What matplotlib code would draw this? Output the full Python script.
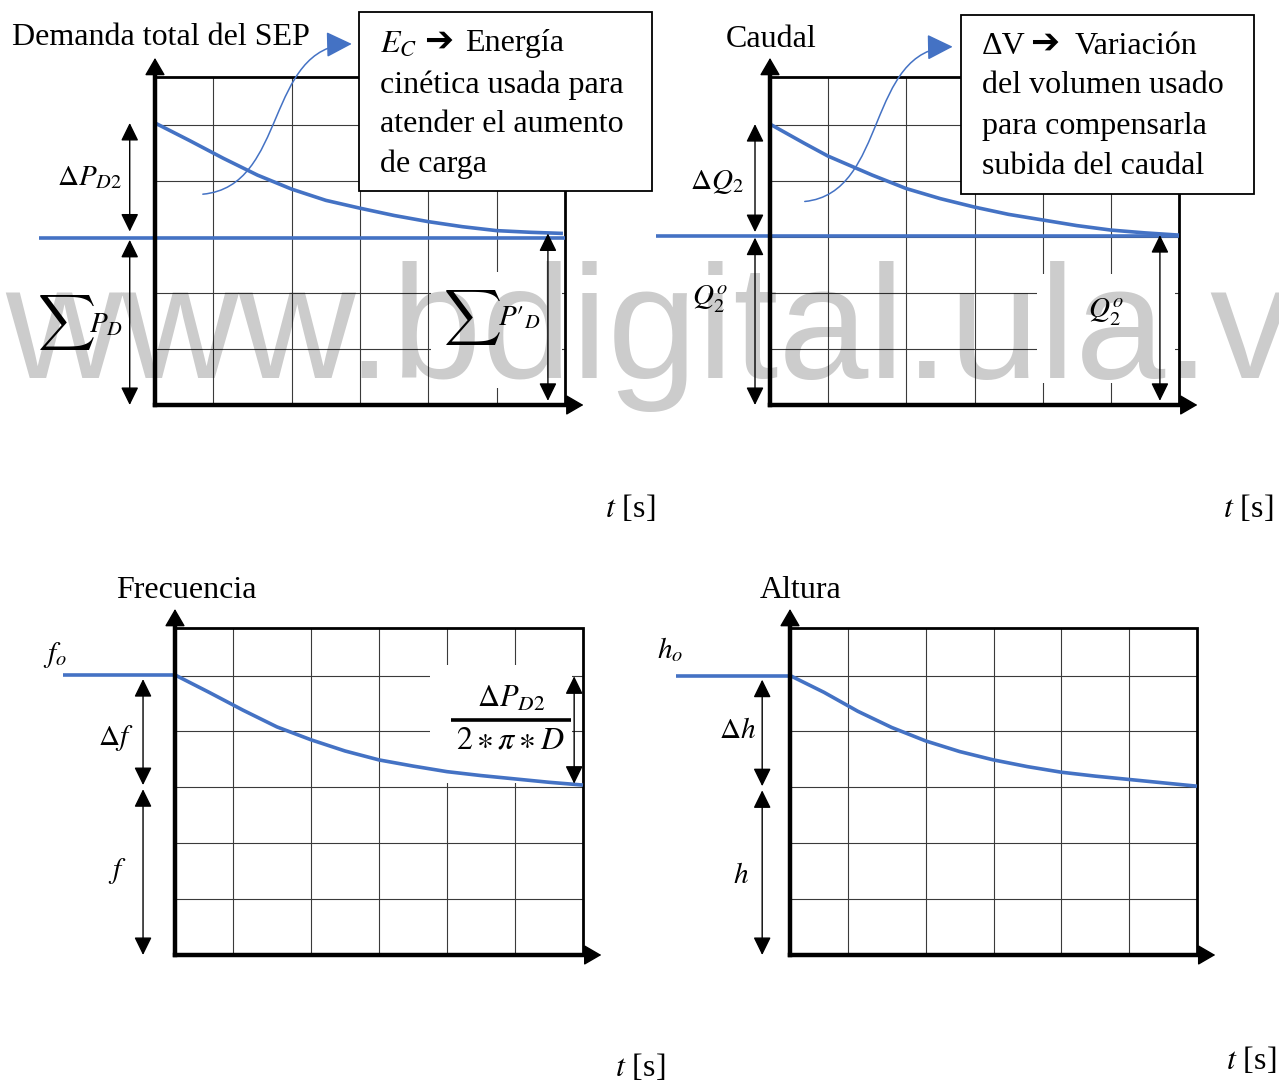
import matplotlib
matplotlib.use("Agg")
import matplotlib.pyplot as plt
from matplotlib.patches import Rectangle, FancyArrowPatch
from matplotlib.path import Path

plt.rcParams["font.family"] = ["Liberation Serif", "DejaVu Sans"]
plt.rcParams["mathtext.fontset"] = "stix"

W, H, DPI = 1279, 1082, 100
BLUE = "#4472C4"

# Shared grid of the four panels (time units across, value units up)
grid_t = [0.85, 2, 3, 4, 5]
grid_v = [1, 2, 3, 4, 5]
T_MAX, V_MAX = 6.0, 5.85
T_TIP, V_TIP = 6.27, 6.19

# Demanda total del SEP
demand_lead_t = -1.70
demand_base = 2.97
demand_t = [0, 0.5, 1.0, 1.5, 2.0, 2.5, 3.0, 3.5, 4.0, 4.5, 5.0, 5.5, 5.97]
demand_v = [5.03, 4.72, 4.40, 4.10, 3.85, 3.65, 3.51, 3.38, 3.27, 3.18, 3.11, 3.08, 3.06]

# Caudal
flow_lead_t = -1.67
flow_base = 3.01
flow_t = [0, 0.5, 0.85, 1.5, 2.0, 2.5, 3.0, 3.5, 4.0, 4.5, 5.0, 5.5, 6.0]
flow_v = [5.01, 4.67, 4.44, 4.10, 3.86, 3.68, 3.53, 3.40, 3.30, 3.20, 3.12, 3.07, 3.03]

# Frecuencia
freq_lead_t = -1.65
freq_t = [0, 0.5, 1.0, 1.5, 2.0, 2.5, 3.0, 3.5, 4.0, 4.5, 5.0, 5.5, 6.0]
freq_v = [5.01, 4.70, 4.38, 4.08, 3.85, 3.65, 3.49, 3.38, 3.28, 3.21, 3.15, 3.09, 3.04]

# Altura
head_lead_t = -1.68
head_t = [0, 0.5, 1.0, 1.5, 2.0, 2.5, 3.0, 3.5, 4.0, 4.5, 5.0, 5.5, 6.0]
head_v = [5.00, 4.70, 4.36, 4.07, 3.83, 3.64, 3.49, 3.37, 3.27, 3.20, 3.14, 3.08, 3.02]

# Panel boxes in pixels: left, top, right, bottom
PANELS = {
    "demand": (155, 77, 565, 405),
    "flow": (770, 77, 1179, 405),
    "freq": (175, 628, 583, 955),
    "head": (790, 628, 1197, 955),
}

TITLE_FS = 23
BOX_FS = 23
MATH_FS = 21
SIGMA_FS = 29

fig = plt.figure(figsize=(W / DPI, H / DPI), dpi=DPI)
fig.patch.set_facecolor("white")


def make_panel(box):
    l, t, r, b = box
    ax = fig.add_axes([l / W, 1 - b / H, (r - l) / W, (b - t) / H])
    ax.set_xlim(0, T_MAX)
    ax.set_ylim(0, V_MAX)
    ax.axis("off")
    for g in grid_t:
        ax.plot([g, g], [0, V_MAX], color="#3a3a3a", lw=0.8, zorder=1)
    for g in grid_v:
        ax.plot([0, T_MAX], [g, g], color="#3a3a3a", lw=0.8, zorder=1)
    ax.plot([0, T_MAX, T_MAX], [V_MAX, V_MAX, 0], color="black", lw=2.0,
            zorder=3, solid_joinstyle="miter", clip_on=False)
    ax.plot([0, 0], [0, V_TIP - 0.2], color="black", lw=3.2, zorder=5,
            solid_capstyle="projecting", clip_on=False)
    ax.plot([0, T_TIP - 0.2], [0, 0], color="black", lw=3.2, zorder=5,
            solid_capstyle="projecting", clip_on=False)
    head = dict(arrowstyle="-|>,head_length=0.55,head_width=0.32",
                color="black", lw=1.0, mutation_scale=20,
                shrinkA=0, shrinkB=0)
    ax.annotate("", xy=(0, V_TIP), xytext=(0, V_TIP - 0.3), arrowprops=head,
                annotation_clip=False, zorder=5)
    ax.annotate("", xy=(T_TIP, 0), xytext=(T_TIP - 0.3, 0), arrowprops=head,
                annotation_clip=False, zorder=5)
    return ax


def span(ax, t, v_from, v_to, shrink_from=0, shrink_to=0):
    ax.annotate("", xy=(t, v_to), xytext=(t, v_from),
                arrowprops=dict(arrowstyle="<|-|>,head_length=0.55,head_width=0.27",
                                color="black", lw=1.0, mutation_scale=20,
                                shrinkA=shrink_from, shrinkB=shrink_to),
                annotation_clip=False, zorder=6)


def mask(ax, t0, t1, v0, v1):
    ax.add_patch(Rectangle((t0, v0), t1 - t0, v1 - v0, facecolor="white",
                           edgecolor="none", zorder=2, clip_on=False))


def callout(ax, t0, t1, v0, v1):
    ax.add_patch(Rectangle((t0, v0), t1 - t0, v1 - v0, facecolor="white",
                           edgecolor="black", lw=1.3, zorder=7, clip_on=False))


def box_text(ax, t, v, s, **kw):
    opts = dict(fontsize=BOX_FS, ha="left", va="center", zorder=8, clip_on=False)
    opts.update(kw)
    ax.text(t, v, s, **opts)


def bent_arrow(ax, pts):
    path = Path(pts, [Path.MOVETO, Path.CURVE4, Path.CURVE4, Path.CURVE4])
    arr = FancyArrowPatch(path=path, arrowstyle="-|>,head_length=0.8,head_width=0.4",
                          mutation_scale=20, color=BLUE, lw=1.1,
                          transform=ax.transData, zorder=9, clip_on=False)
    ax.add_patch(arr)


def label(ax, t, v, s, fs=MATH_FS, ha="center", va="center"):
    ax.text(t, v, s, fontsize=fs, ha=ha, va=va, zorder=8, clip_on=False)


def sigma(ax, t, v):
    ax.text(t, v, r"$\sum$", fontsize=SIGMA_FS, ha="center", va="center",
            math_fontfamily="cm", zorder=8, clip_on=False)


LINE = dict(color=BLUE, lw=2.6, zorder=4, clip_on=False, solid_capstyle="butt")

# ---------------- Demanda total del SEP ----------------
ax = make_panel(PANELS["demand"])
mask(ax, 4.04, 5.96, 0.30, 2.38)
ax.plot([demand_lead_t, T_MAX], [demand_base, demand_base], **LINE)
ax.plot([0, 0], [demand_base, demand_v[0]], **LINE)
ax.plot(demand_t, demand_v, **LINE)
span(ax, -0.37, demand_base, demand_v[0], shrink_from=5)
span(ax, -0.37, demand_base, 0, shrink_from=1)
span(ax, 5.75, 0, demand_v[-1], shrink_from=3)
label(ax, -0.95, 4.06, r"$\Delta P_{D2}$")
sigma(ax, -1.30, 1.48)
label(ax, -0.72, 1.43, r"$P_D$")
sigma(ax, 4.64, 1.56)
label(ax, 5.33, 1.56, r"$P\prime_D$")
ax.text(-2.09, 6.55, "Demanda total del SEP", fontsize=TITLE_FS, ha="left",
        va="center", clip_on=False)
callout(ax, 2.99, 7.27, 3.81, 7.01)
box_text(ax, 3.29, 6.44, r"$E_C$")
box_text(ax, 3.94, 6.47, "➔", fontsize=25, fontweight="bold")
box_text(ax, 4.54, 6.44, "Energía")
box_text(ax, 3.29, 5.71, "cinética usada para")
box_text(ax, 3.29, 5.01, "atender el aumento")
box_text(ax, 3.29, 4.29, "de carga")
bent_arrow(ax, [(0.70, 3.76), (1.95, 3.90), (1.60, 6.40), (2.88, 6.44)])
ax.text(6.59, -1.84, r"$t$ [s]", fontsize=TITLE_FS, ha="left", va="center",
        clip_on=False)

# ---------------- Caudal ----------------
ax = make_panel(PANELS["flow"])
mask(ax, 3.92, 5.94, 0.39, 2.33)
ax.plot([flow_lead_t, T_MAX], [flow_base, flow_base], **LINE)
ax.plot([0, 0], [flow_base, flow_v[0]], **LINE)
ax.plot(flow_t, flow_v, **LINE)
span(ax, -0.22, flow_base, flow_v[0], shrink_from=3)
span(ax, -0.22, flow_base, 0, shrink_from=1)
span(ax, 5.72, 0, flow_v[-1], shrink_from=3)
label(ax, -0.78, 3.97, r"$\Delta Q_2$")
label(ax, -0.89, 1.88, r"$Q_2^o$")
label(ax, 4.93, 1.66, r"$Q_2^o$")
ax.text(0.01, 6.52, "Caudal", fontsize=TITLE_FS, ha="center", va="center",
        clip_on=False)
callout(ax, 2.80, 7.10, 3.76, 6.96)
box_text(ax, 3.11, 6.40, "ΔV")
box_text(ax, 3.81, 6.43, "➔", fontsize=25, fontweight="bold")
box_text(ax, 4.47, 6.40, "Variación")
box_text(ax, 3.11, 5.69, "del volumen usado")
box_text(ax, 3.11, 4.97, "para compensarla")
box_text(ax, 3.11, 4.26, "subida del caudal")
bent_arrow(ax, [(0.51, 3.63), (1.74, 3.78), (1.40, 6.36), (2.68, 6.39)])
ax.text(6.65, -1.84, r"$t$ [s]", fontsize=TITLE_FS, ha="left", va="center",
        clip_on=False)

# ---------------- Frecuencia ----------------
ax = make_panel(PANELS["freq"])
mask(ax, 3.75, 5.84, 3.08, 5.19)
ax.plot([freq_lead_t, 0], [freq_v[0], freq_v[0]], **LINE)
ax.plot(freq_t, freq_v, **LINE)
span(ax, -0.47, freq_v[0], freq_v[-1], shrink_from=3)
span(ax, -0.47, freq_v[-1], 0, shrink_from=3)
span(ax, 5.87, freq_v[-1], freq_v[0], shrink_from=1, shrink_to=1)
label(ax, -1.76, 5.37, r"$f_o$")
label(ax, -0.87, 3.88, r"$\Delta f$")
label(ax, -0.85, 1.50, r"$f$")
label(ax, 4.94, 4.58, r"$\Delta P_{D2}$", fs=22)
ax.plot([4.06, 5.82], [4.20, 4.20], color="black", lw=2.6, zorder=8,
        clip_on=False, solid_capstyle="butt")
label(ax, 4.93, 3.83, r"$2\ast\pi\ast D$", fs=23)
ax.text(0.16, 6.52, "Frecuencia", fontsize=TITLE_FS, ha="center", va="center",
        clip_on=False)
ax.text(6.47, -2.02, r"$t$ [s]", fontsize=TITLE_FS, ha="left", va="center",
        clip_on=False)

# ---------------- Altura ----------------
ax = make_panel(PANELS["head"])
ax.plot([head_lead_t, 0], [head_v[0], head_v[0]], **LINE)
ax.plot(head_t, head_v, **LINE)
span(ax, -0.41, head_v[0], head_v[-1], shrink_from=3)
span(ax, -0.41, head_v[-1], 0, shrink_from=3)
label(ax, -1.77, 5.46, r"$h_o$")
label(ax, -0.77, 4.01, r"$\Delta h$")
label(ax, -0.72, 1.41, r"$h$")
ax.text(0.15, 6.52, "Altura", fontsize=TITLE_FS, ha="center", va="center",
        clip_on=False)
ax.text(6.43, -1.88, r"$t$ [s]", fontsize=TITLE_FS, ha="left", va="center",
        clip_on=False)

# Repository mark across the upper row
fig.text(5 / W, 1 - 378 / H, "www.bdigital.ula.ve", fontsize=116.6,
         family="Liberation Sans", color="black", alpha=0.2,
         ha="left", va="baseline", zorder=20)

fig.savefig("out.png", dpi=DPI)
